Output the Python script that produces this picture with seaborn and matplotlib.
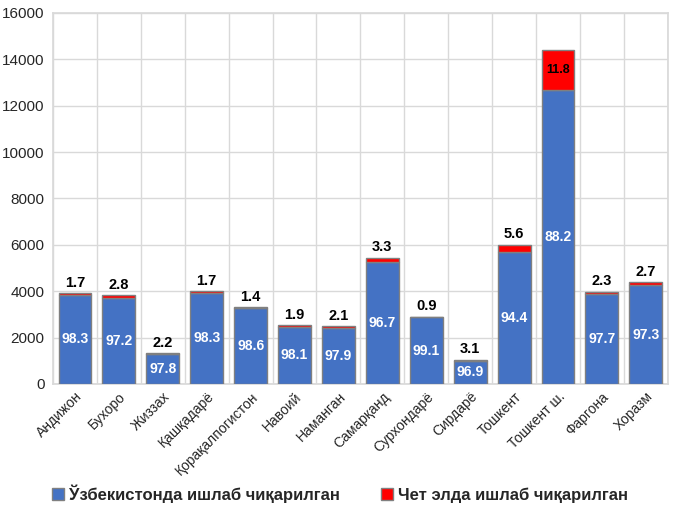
import matplotlib
matplotlib.use("Agg")
import matplotlib.pyplot as plt
import seaborn as sns
import pandas as pd
import numpy as np
from matplotlib.patches import Patch

regions = ["Андижон", "Бухоро", "Жиззах", "Қашқадарё", "Қорақалпогистон", "Навоий",
           "Наманган", "Самарқанд", "Сурхондарё", "Сирдарё", "Тошкент", "Тошкент ш.",
           "Фаргона", "Хоразм"]
domestic = [3853, 3723, 1306, 3922, 3269, 2477, 2428, 5270, 2874, 1003, 5673, 12692, 3884, 4257]
foreign = [67, 107, 29, 68, 46, 48, 52, 180, 26, 32, 337, 1698, 91, 118]
dom_share = [98.3, 97.2, 97.8, 98.3, 98.6, 98.1, 97.9, 96.7, 99.1, 96.9, 94.4, 88.2, 97.7, 97.3]
for_share = [1.7, 2.8, 2.2, 1.7, 1.4, 1.9, 2.1, 3.3, 0.9, 3.1, 5.6, 11.8, 2.3, 2.7]

sns.set_theme(style="white")
plt.rcParams['font.family'] = ['Liberation Sans', 'DejaVu Sans']

df = pd.DataFrame({"region": regions, "domestic": domestic, "foreign": foreign})
df["total"] = df["domestic"] + df["foreign"]

fig = plt.figure(figsize=(6.8, 5.13), dpi=100)
ax = fig.add_axes([0.078, 0.2515, 0.904, 0.7235])

blue = "#4472C4"
red = "#FF0000"
sns.barplot(data=df, x="region", y="domestic", color=blue, saturation=1, width=0.75,
            edgecolor="#808080", linewidth=1.0, ax=ax, zorder=3)
sns.barplot(data=df, x="region", y="foreign", bottom=df["domestic"], color=red, saturation=1,
            width=0.75, edgecolor="#808080", linewidth=1.0, ax=ax, zorder=3)

ax.set_ylim(0, 16000)
ax.set_xlim(-0.5, len(regions) - 0.5)
ax.set_yticks(np.arange(0, 16001, 2000))
ax.set_yticklabels([str(v) for v in range(0, 16001, 2000)], fontsize=11)
ax.set_xticks(range(len(regions)))
ax.set_xticklabels(regions, rotation=45, ha="right", rotation_mode="anchor", fontsize=10)
ax.tick_params(axis="x", length=0, pad=4)
ax.tick_params(axis="y", length=0, pad=6)
ax.set_xticks(np.arange(-0.5, len(regions), 1), minor=True)
ax.grid(True, axis="y", color="#d9d9d9", linewidth=1, zorder=0)
ax.grid(True, axis="x", which="minor", color="#d9d9d9", linewidth=1, zorder=0)
ax.grid(False, axis="x", which="major")
ax.set_axisbelow(True)
for s in ax.spines.values():
    s.set_color("#d9d9d9")
ax.set_xlabel("")
ax.set_ylabel("")

for i in range(len(regions)):
    d = df["domestic"][i]
    t = df["total"][i]
    ax.text(i, d / 2, f"{dom_share[i]:.1f}", ha="center", va="center", color="white",
            fontsize=10, fontweight="bold", zorder=5)
    if for_share[i] > 10:
        ax.text(i, d + df["foreign"][i] / 2, f"{for_share[i]:.1f}", ha="center", va="center",
                color="black", fontsize=9, fontweight="bold", zorder=5)
    else:
        ax.text(i, t + 150, f"{for_share[i]:.1f}", ha="center", va="bottom", color="black",
                fontsize=10.5, fontweight="bold", zorder=5)

handles = [Patch(facecolor=blue, edgecolor="#808080", label="Ўзбекистонда ишлаб чиқарилган"),
           Patch(facecolor=red, edgecolor="#808080", label="Чет элда ишлаб чиқарилган")]
leg = fig.legend(handles=handles, loc="center", bbox_to_anchor=(0.5, 0.038), ncol=2, frameon=False,
                 prop={"size": 12, "weight": "bold"}, handlelength=0.7, handleheight=0.7,
                 handletextpad=0.3, columnspacing=2.5)

fig.savefig("out.png", dpi=100)
